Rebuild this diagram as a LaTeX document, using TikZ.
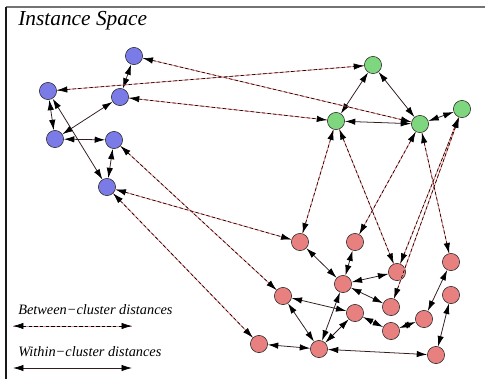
\documentclass[tikz,border=0pt]{standalone}
\usepackage{fontspec}
\setmainfont{Liberation Serif}
\usepackage{tikz}
\usepackage{xcolor}
\usetikzlibrary{arrows.meta, positioning}
\definecolor{cBlue}{RGB}{123,123,232}
\definecolor{cGreen}{RGB}{126,214,126}
\definecolor{cRed}{RGB}{232,128,128}
\definecolor{cLine}{RGB}{50,28,28}
\definecolor{cPink}{RGB}{245,140,140}
\tikzset{
	pt/.style       ={circle, draw=black!85, thin, minimum size=0.43cm, inner sep=0pt},
	bpt/.style      ={pt, fill=cBlue},
	gpt/.style      ={pt, fill=cGreen},
	rpt/.style      ={pt, fill=cRed},
	tips/.style     ={{Latex[length=2.6mm, width=1.6mm, black]}-{Latex[length=2.6mm, width=1.6mm, black]}},
	within/.style   ={tips, cLine, line width=0.55pt},
	between/.style  ={tips, black, line width=0.45pt, dash pattern=on 2.4pt off 1.6pt,
	                  preaction={draw=cPink, solid, line width=0.65pt, -}},
	lbl/.style      ={font=\fontsize{10.2}{12}\selectfont\itshape, anchor=west, inner sep=0pt},
}

\begin{document}
\begin{tikzpicture}[x=0.025cm, y=-0.025cm]
	\useasboundingbox (0,0) rectangle (485,378);
	\draw[black!55, line width=0.8pt] (6,7) -- (490,7);
	\draw[black!90, line width=0.8pt] (6,7) -- (6,385);
	\node[lbl, font=\fontsize{15.2}{17}\selectfont\itshape] (title) at (18,21) {Instance Space};

	% clusters
	\foreach \n/\x/\y in {b1/134/56, b2/48/91, b3/120/97, b4/55/139, b5/114/140, b6/107/187}
		\node[bpt] (\n) at (\x,\y) {};
	\foreach \n/\x/\y in {g1/373/65, g2/336/121, g3/420/124, g4/462/109}
		\node[gpt] (\n) at (\x,\y) {};
	\foreach \n/\x/\y in {r1/300/242, r2/355/242, r3/451/262, r4/397/272, r5/343/284, r6/283/296, r7/451/295,
		r8/391/307, r9/355/313, r10/424/319, r11/391/331, r12/259/344, r13/319/349, r14/436/355}
		\node[rpt] (\n) at (\x,\y) {};

	% within-cluster distances
	\foreach \a/\b in {b1/b3, b2/b4, b4/b3, b4/b5, b5/b6, b2/b6,
		g1/g2, g1/g3, g2/g3, g3/g4,
		r1/r5, r2/r5, r4/r5, r5/r8, r5/r13, r6/r9, r6/r13, r9/r13, r9/r11, r11/r10,
		r10/r3, r7/r14, r12/r13, r13/r14}
		\draw[within] (\a) -- (\b);

	% between-cluster distances
	\foreach \a/\b in {b1/g3, b2/g1, b3/g2, b5/r6, b6/r1, b6/r12,
		g2/r1, g2/r4, g3/r2, g3/r3, g4/r4, g4/r8}
		\draw[between] (\a) -- (\b);

	% legend
	\node[lbl] (lgb) at (18,310) {Between−cluster distances};
	\coordinate (lb1) at (13,326);
	\coordinate (lb2) at (132,326);
	\draw[between] (lb1) -- (lb2);
	\node[lbl] (lgw) at (18,352) {Within−cluster distances};
	\coordinate (lw1) at (13,368);
	\coordinate (lw2) at (132,368);
	\draw[within] (lw1) -- (lw2);
\end{tikzpicture}
\end{document}
